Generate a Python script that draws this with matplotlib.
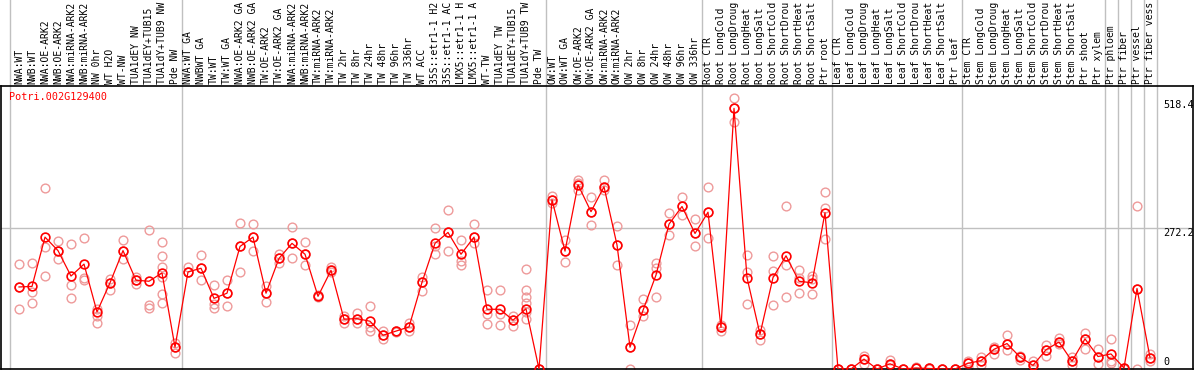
import matplotlib
matplotlib.use("Agg")
import matplotlib.pyplot as plt
from matplotlib.transforms import blended_transform_factory

gene_name = "Potri.002G129400"

labels = [
    "NWA:WT", "NWB:WT", "NWA:OE-ARK2", "NWB:OE-ARK2", "NWA:miRNA-ARK2", "NWB:miRNA-ARK2",
    "NW 0hr", "WT H2O", "WT-NW", "TUA1dEY NW", "TUA1dEY+TUB15 NW", "TUA1dY+TUB9 NW", "Pde NW",
    "NWA:WT GA", "NWBWT GA", "TW:WT", "TW:WT GA", "NWA:OE-ARK2 GA", "NWB:OE-ARK2 GA",
    "TW:OE-ARK2", "TW:OE-ARK2 GA", "NWA:miRNA-ARK2", "NWB:miRNA-ARK2", "TW:miRNA-ARK2",
    "TW:miRNA-ARK2", "TW 2hr", "TW 8hr", "TW 24hr", "TW 48hr", "TW 96hr", "TW 336hr",
    "WT ACC", "35S::etr1-1 H2O", "35S::etr1-1 ACC", "LMX5::etr1-1 H2O", "LMX5::etr1-1 ACC",
    "WT-TW", "TUA1dEY TW", "TUA1dEY+TUB15 TW", "TUA1dY+TUB9 TW", "Pde TW",
    "OW:WT", "OW:WT GA", "OW:OE-ARK2", "OW:OE-ARK2 GA", "OW:miRNA-ARK2", "OW:miRNA-ARK2",
    "OW 2hr", "OW 8hr", "OW 24hr", "OW 48hr", "OW 96hr", "OW 336hr",
    "Root CTR", "Root LongCold", "Root LongDrought", "Root LongHeat", "Root LongSalt",
    "Root ShortCold", "Root ShortDrought", "Root ShortHeat", "Root ShortSalt", "Ptr root",
    "Leaf CTR", "Leaf LongCold", "Leaf LongDrought", "Leaf LongHeat", "Leaf LongSalt",
    "Leaf ShortCold", "Leaf ShortDrought", "Leaf ShortHeat", "Leaf ShortSalt", "Ptr leaf",
    "Stem CTR", "Stem LongCold", "Stem LongDrought", "Stem LongHeat", "Stem LongSalt",
    "Stem ShortCold", "Stem ShortDrought", "Stem ShortHeat", "Stem ShortSalt", "Ptr shoot",
    "Ptr xylem", "Ptr phloem", "Ptr fiber", "Ptr vessel", "Ptr fiber vessel",
]

means = [
    158, 159, 254, 228, 179, 202, 110, 166, 228, 171, 169, 185, 42,
    187, 194, 136, 146, 236, 254, 146, 213, 242, 221, 140, 190, 96, 97, 92, 65, 73, 81,
    167, 242, 263, 221, 254, 115, 115, 94, 116, 0,
    326, 227, 355, 303, 351, 239, 42, 113, 181, 279, 313, 261,
    302, 80, 502, 176, 67, 176, 218, 169, 166, 301,
    0, 0, 19, 0, 10, 0, 2, 1, 0, 0,
    11, 16, 38, 49, 23, 7, 37, 52, 15, 58,
    24, 29, 2, 155, 22,
]

replicates = [
    [202, 158, 115], [204, 148, 128], [349, 235, 179], [246, 211, 228], [240, 161, 136],
    [252, 176, 171], [116, 103, 89], [174, 153, 166], [248, 211, 228], [177, 163, 171],
    [268, 123, 118], [244, 217, 197, 177, 144, 128], [51, 31, 42],
    [196, 186, 187], [219, 171, 194], [161, 126, 118], [172, 121, 146], [281, 186, 236],
    [279, 228, 254], [159, 130, 146], [221, 205, 213], [274, 213, 242], [244, 200, 221],
    [140, 138, 142], [197, 186, 190], [102, 89, 96], [108, 89, 97], [121, 80, 73],
    [73, 58, 65], [74, 71, 73], [89, 74, 81],
    [177, 150, 167], [272, 236, 221], [306, 228, 263], [248, 208, 201], [279, 242, 254],
    [153, 105, 86], [153, 105, 84], [103, 82, 94], [192, 152, 138, 128, 109, 97], [0, 0],
    [333, 319, 326], [248, 207, 227], [364, 345, 358], [331, 277, 303], [364, 345, 351],
    [275, 200, 239], [84, 0, 42], [134, 102, 113], [205, 194, 138], [300, 259, 279],
    [331, 297, 313], [288, 237, 261],
    [351, 252, 302], [74, 84, 80], [522, 476, 502], [219, 187, 125], [76, 55, 67],
    [218, 188, 123], [313, 200, 138], [190, 176, 147], [179, 174, 144], [341, 310, 250],
    [0, 0, 0], [0, 0, 0], [26, 9, 19], [0, 0, 0], [18, 7, 10], [0, 0, 0], [4, 2, 1],
    [2, 1, 0], [0, 0, 0], [0, 0, 0],
    [15, 4, 11], [23, 7, 16], [43, 29, 38], [65, 36, 49], [26, 18, 23], [15, 0, 7],
    [47, 25, 37], [60, 49, 52], [23, 7, 15], [70, 38, 58],
    [38, 10, 24], [57, 15, 11], [0, 2, 2], [314, 0, 155], [29, 15, 22],
]

# category index after which a separator line is drawn
group_ends = [-1.2, 12, 40, 52, 62, 72, 83, 84, 85, 86, 87]

y_ticks = [0, 272.2, 518.4]

W, H = 1194, 370
fig = plt.figure(figsize=(W / 100, H / 100), dpi=100)
ax_left, ax_right = 1, 1193
ax_top, ax_bottom = 85.5, 369
ymax = 546
ax = fig.add_axes([ax_left / W, (H - ax_bottom) / H, (ax_right - ax_left) / W,
                   (ax_bottom - ax_top) / H])
ax.set_xlim(-18 / 13, -18 / 13 + (ax_right - ax_left) / 13)
ax.set_ylim(0, ymax)
ax.set_xticks([])
ax.set_yticks([])
for s in ["left", "bottom", "top", "right"]:
    ax.spines[s].set_color("black")
    ax.spines[s].set_linewidth(1.2)

x = list(range(len(labels)))

# grid line at middle tick
ax.axhline(y_ticks[1], color="#c0c0c0", lw=1.0, zorder=0)

# separators spanning label area too
trans = blended_transform_factory(ax.transData, ax.transAxes)
top_ext = (ax_bottom - 0) / (ax_bottom - ax_top)
for g in group_ends:
    ax.plot([g + 0.5, g + 0.5], [0, top_ext], transform=trans, color="#c0c0c0",
            lw=1.0, clip_on=False, zorder=0)

# replicates
for i, reps in enumerate(replicates):
    ax.plot([i] * len(reps), reps, linestyle="none", marker="o", markersize=6.3,
            markerfacecolor="none", markeredgecolor="#ee9a9a", markeredgewidth=1.0,
            zorder=2)

# means
ax.plot(x, means, color="#ff0000", lw=0.9, marker="o", markersize=6.3,
        markerfacecolor="none", markeredgecolor="#ff0000", markeredgewidth=1.2, zorder=3)

# category labels (shown truncated, as in the original)
lab_y = 1 + 1.5 / (ax_bottom - ax_top)
for i, lab in enumerate(labels):
    ax.text(i, lab_y, lab[:14], transform=trans, rotation=90, ha="center", va="bottom",
            fontsize=7.0, family="DejaVu Sans Mono", color="black", clip_on=False)

# gene name
fig.text(9 / W, 1 - 97 / H, gene_name, ha="left", va="center", fontsize=7.3,
         family="DejaVu Sans Mono", color="#ff0000")

# y tick labels on right
for v in y_ticks:
    ypix = ax_bottom - v * (ax_bottom - ax_top) / ymax
    ypix = ypix + 5 if v > 0 else 362
    fig.text(1163 / W, 1 - ypix / H, "%g" % v, ha="left", va="center", fontsize=7.3,
             family="DejaVu Sans Mono", color="black")

fig.savefig("out.png", dpi=100)
